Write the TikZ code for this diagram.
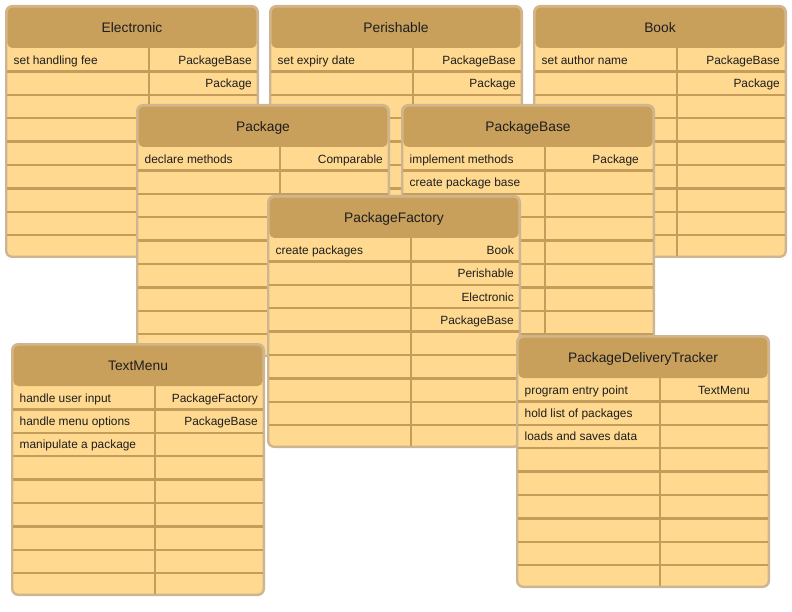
\documentclass[tikz,border=0pt]{standalone}
\usepackage{fontspec}
\setmainfont{Liberation Sans}
\definecolor{cardbody}{HTML}{FED98F}
\definecolor{cardhead}{HTML}{C8A05C}
\definecolor{cardline}{HTML}{C59D5B}
\definecolor{cardedge}{HTML}{CDB592}
\definecolor{cardtext}{HTML}{1E1E1E}
\tikzset{
  cardouter/.style={fill=cardbody, draw=cardedge, line width=2.4pt, rounded corners=6pt},
  rowline/.style={draw=cardline, line width=2.4pt},
  cardtitle/.style={anchor=base, inner sep=0pt, text=cardtext, font=\fontsize{13.8}{16}\selectfont},
  lefttxt/.style={anchor=base west, inner sep=0pt, text=cardtext, font=\fontsize{11.9}{14}\selectfont},
  righttxt/.style={anchor=base east, inner sep=0pt, text=cardtext, font=\fontsize{11.9}{14}\selectfont},
}
% id, x, y, title
\newcommand\crcframe[4]{%
  \draw[cardouter] ({#2+1.2},{#3+1.2}) rectangle ({#2+252.8},{#3+251.8});
  \fill[cardhead, rounded corners=5pt] ({#2+2.4},{#3+2.4}) rectangle ({#2+251.6},{#3+43});
  \foreach \ii in {1,...,8} {\draw[rowline] ({#2+2.4},{#3+43+\ii*23.4}) -- ({#2+251.6},{#3+43+\ii*23.4});}
  \draw[rowline] ({#2+144},{#3+43}) -- ({#2+144},{#3+250.6});
  \node[cardtitle] (#1) at ({#2+127},{#3+27.5}) {#4};
}
% id, x, y, row, text
\newcommand\crcL[5]{\node[lefttxt] (#1) at ({#2+8.5},{#3+43+(#4-0.5)*23.4+4.4}) {#5};}
% [right offset] id, x, y, row, text
\newcommand\crcR[6][247]{\node[righttxt] (#2) at ({#3+#1},{#4+43+(#5-0.5)*23.4+4.6}) {#6};}

\begin{document}
\begin{tikzpicture}[x=1pt, y=-1pt]
\useasboundingbox (0,0) rectangle (792,612);

% Electronic
\crcframe{el}{5}{5}{Electronic}
\crcL{elL1}{5}{5}{1}{set handling fee}
\crcR{elR1}{5}{5}{1}{PackageBase}
\crcR{elR2}{5}{5}{2}{Package}

% Perishable
\crcframe{pe}{269}{5}{Perishable}
\crcL{peL1}{269}{5}{1}{set expiry date}
\crcR{peR1}{269}{5}{1}{PackageBase}
\crcR{peR2}{269}{5}{2}{Package}

% Book
\crcframe{bk}{533}{5}{Book}
\crcL{bkL1}{533}{5}{1}{set author name}
\crcR{bkR1}{533}{5}{1}{PackageBase}
\crcR{bkR2}{533}{5}{2}{Package}

% Package
\crcframe{pk}{136}{104}{Package}
\crcL{pkL1}{136}{104}{1}{declare methods}
\crcR{pkR1}{136}{104}{1}{Comparable}

% PackageBase
\crcframe{pb}{401}{104}{PackageBase}
\crcL{pbL1}{401}{104}{1}{implement methods}
\crcL{pbL2}{401}{104}{2}{create package base}
\crcR[238]{pbR1}{401}{104}{1}{Package}

% PackageFactory
\crcframe{pf}{267}{195}{PackageFactory}
\crcL{pfL1}{267}{195}{1}{create packages}
\crcR{pfR1}{267}{195}{1}{Book}
\crcR{pfR2}{267}{195}{2}{Perishable}
\crcR{pfR3}{267}{195}{3}{Electronic}
\crcR{pfR4}{267}{195}{4}{PackageBase}

% TextMenu
\crcframe{tm}{11}{343}{TextMenu}
\crcL{tmL1}{11}{343}{1}{handle user input}
\crcL{tmL2}{11}{343}{2}{handle menu options}
\crcL{tmL3}{11}{343}{3}{manipulate a package}
\crcR{tmR1}{11}{343}{1}{PackageFactory}
\crcR{tmR2}{11}{343}{2}{PackageBase}

% PackageDeliveryTracker
\crcframe{pd}{516}{335}{PackageDeliveryTracker}
\crcL{pdL1}{516}{335}{1}{program entry point}
\crcL{pdL2}{516}{335}{2}{hold list of packages}
\crcL{pdL3}{516}{335}{3}{loads and saves data}
\crcR[234]{pdR1}{516}{335}{1}{TextMenu}
\end{tikzpicture}
\end{document}
